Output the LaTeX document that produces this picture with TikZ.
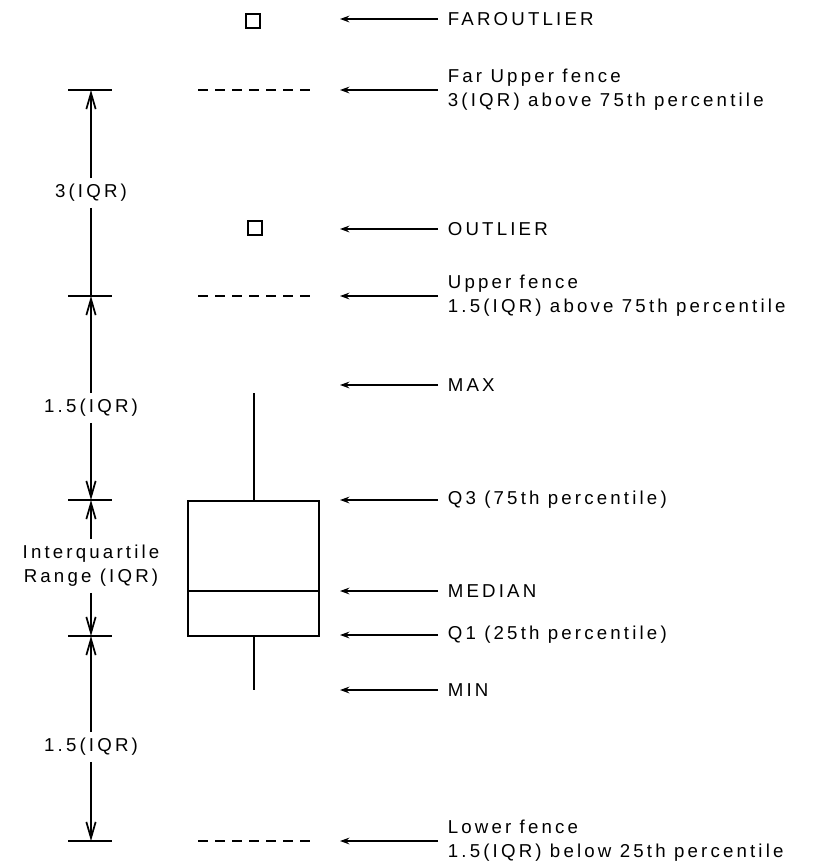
\documentclass[tikz,border=0pt]{standalone}
\usepackage{fontspec}
\setmainfont{Liberation Sans}[LetterSpace=17]
\usetikzlibrary{arrows.meta}
\begin{document}
\begin{tikzpicture}[x=0.75pt,y=-0.75pt,line width=1.3pt,
  txt/.style={font=\fontsize{14}{18}\selectfont,inner ysep=0pt,inner xsep=6.75pt,align=left,anchor=west},
  dimlbl/.style={font=\fontsize{14}{18}\selectfont,inner xsep=0pt,inner ysep=4pt,align=center},
  ptr/.style={-{Stealth[length=7pt,width=5pt]}},
  dimarr/.style={-{Straight Barb[length=12pt,width=7pt]}},
  fence/.style={dash pattern=on 7.5pt off 5.25pt},
  pt/.style={draw,minimum size=11pt,inner sep=0pt}]
\useasboundingbox (0,0) rectangle (825,865);

% ---- box plot ----
\coordinate (bxTL) at (188,501);
\coordinate (bxBR) at (319,636);
\coordinate (medL) at (188,591);
\coordinate (medR) at (319,591);
\coordinate (wTop) at (254,393);
\coordinate (q3w) at (254,501);
\coordinate (q1w) at (254,636);
\coordinate (wBot) at (254,690);
\draw (bxTL) rectangle (bxBR);
\draw (medL) -- (medR);
\draw (wTop) -- (q3w);
\draw (q1w) -- (wBot);

\node[pt] (far) at (253,21) {};
\node[pt] (out) at (255,228) {};

\coordinate (f1L) at (198,90);  \coordinate (f1R) at (312,90);
\coordinate (f2L) at (198,296); \coordinate (f2R) at (312,296);
\coordinate (f3L) at (198,841); \coordinate (f3R) at (312,841);
\draw[fence] (f1L) -- (f1R);
\draw[fence] (f2L) -- (f2R);
\draw[fence] (f3L) -- (f3R);

% ---- right labels ----
\node[txt] (l1) at (438,19) {FAROUTLIER};
\node[txt] (l2) at (438,90) {Far Upper fence\\3(IQR) above 75th percentile};
\node[txt] (l3) at (438,229) {OUTLIER};
\node[txt] (l4) at (438,296) {Upper fence\\1.5(IQR) above 75th percentile};
\node[txt] (l5) at (438,385) {MAX};
\node[txt] (l6) at (438,500) {Q3 (75th percentile)};
\node[txt] (l7) at (438,591) {MEDIAN};
\node[txt] (l8) at (438,635) {Q1 (25th percentile)};
\node[txt] (l9) at (438,690) {MIN};
\node[txt] (l10) at (438,841) {Lower fence\\1.5(IQR) below 25th percentile};
\foreach \i in {1,...,10} {
  \coordinate (a\i) at ([xshift=-73.5pt]l\i.west);
  \draw[ptr] (l\i.west) -- (a\i);
}

% ---- left dimension line ----
\coordinate (t1) at (91,90);
\coordinate (t2) at (91,296);
\coordinate (t3) at (91,500);
\coordinate (t4) at (91,636);
\coordinate (t5) at (91,841);
\foreach \t in {t1,t2,t3,t4,t5} { \draw ([xshift=-17.25pt]\t) -- ([xshift=15.75pt]\t); }

\node[dimlbl] (d1) at (91,193) {3(IQR)};
\node[dimlbl] (d2) at (91,408) {1.5(IQR)};
\node[dimlbl] (d3) at (91,566) {Interquartile\\Range (IQR)};
\node[dimlbl] (d4) at (91,747) {1.5(IQR)};
\draw[dimarr] (d1.north) -- (t1);
\draw (d1.south) -- (t2);
\draw[dimarr] (d2.north) -- (t2);
\draw[dimarr] (d2.south) -- (t3);
\draw[dimarr] (d3.north) -- (t3);
\draw[dimarr] (d3.south) -- (t4);
\draw[dimarr] (d4.north) -- (t4);
\draw[dimarr] (d4.south) -- (t5);
\end{tikzpicture}
\end{document}
